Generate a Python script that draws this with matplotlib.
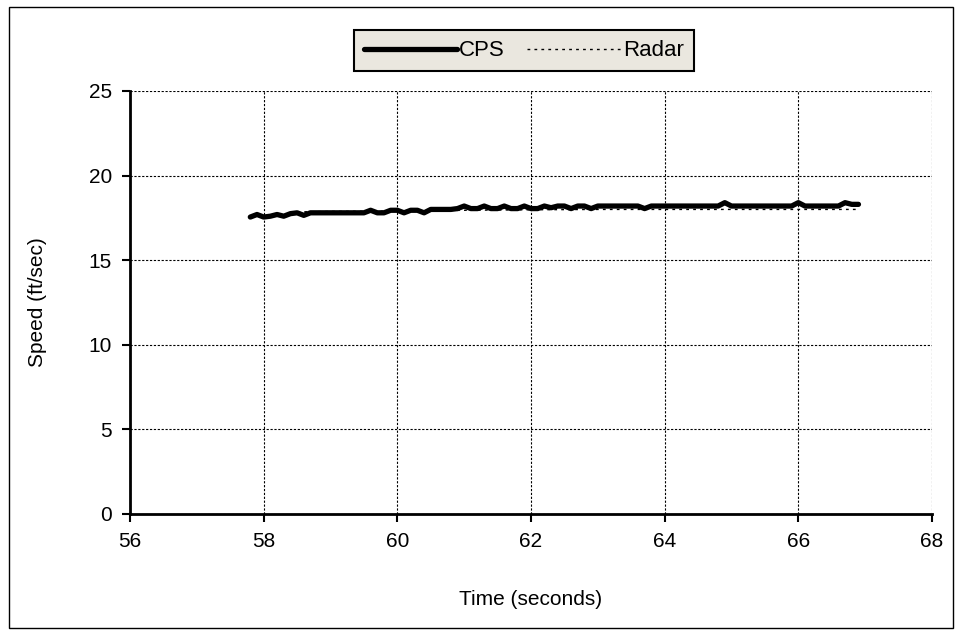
import matplotlib
matplotlib.use('Agg')
import matplotlib.pyplot as plt
from matplotlib.patches import Rectangle

# CPS speed samples (time in s, speed in ft/sec)
cps_time = [57.8, 57.9, 58.0, 58.1, 58.2, 58.3, 58.4, 58.5, 58.6, 58.7,
            58.8, 58.9, 59.0, 59.1, 59.2, 59.3, 59.4, 59.5, 59.6, 59.7,
            59.8, 59.9, 60.0, 60.1, 60.2, 60.3, 60.4, 60.5, 60.6, 60.7,
            60.8, 60.9, 61.0, 61.1, 61.2, 61.3, 61.4, 61.5, 61.6, 61.7,
            61.8, 61.9, 62.0, 62.1, 62.2, 62.3, 62.4, 62.5, 62.6, 62.7,
            62.8, 62.9, 63.0, 63.1, 63.2, 63.3, 63.4, 63.5, 63.6, 63.7,
            63.8, 63.9, 64.0, 64.1, 64.2, 64.3, 64.4, 64.5, 64.6, 64.7,
            64.8, 64.9, 65.0, 65.1, 65.2, 65.3, 65.4, 65.5, 65.6, 65.7,
            65.8, 65.9, 66.0, 66.1, 66.2, 66.3, 66.4, 66.5, 66.6, 66.7,
            66.8, 66.9]
cps_speed = [17.55, 17.7, 17.55, 17.6, 17.7, 17.6, 17.75, 17.8, 17.65, 17.8,
             17.8, 17.8, 17.8, 17.8, 17.8, 17.8, 17.8, 17.8, 17.95, 17.8,
             17.8, 17.95, 17.95, 17.8, 17.95, 17.95, 17.8, 18.0, 18.0, 18.0,
             18.0, 18.05, 18.2, 18.05, 18.05, 18.2, 18.05, 18.05, 18.2, 18.05,
             18.05, 18.2, 18.05, 18.05, 18.2, 18.1, 18.2, 18.2, 18.05, 18.2,
             18.2, 18.05, 18.2, 18.2, 18.2, 18.2, 18.2, 18.2, 18.2, 18.05,
             18.2, 18.2, 18.2, 18.2, 18.2, 18.2, 18.2, 18.2, 18.2, 18.2,
             18.2, 18.4, 18.2, 18.2, 18.2, 18.2, 18.2, 18.2, 18.2, 18.2,
             18.2, 18.2, 18.4, 18.2, 18.2, 18.2, 18.2, 18.2, 18.2, 18.4,
             18.3, 18.3]

# Radar reference speed
radar_time = [58.4, 59.0, 60.0, 61.0, 62.0, 63.0, 64.0, 65.0, 66.0, 66.9]
radar_speed = [17.85, 17.88, 17.9, 17.95, 17.98, 18.0, 18.0, 18.0, 18.0, 18.0]

x_ticks = [56, 58, 60, 62, 64, 66, 68]
y_ticks = [0, 5, 10, 15, 20, 25]

plt.rcParams['font.family'] = ['Liberation Sans', 'DejaVu Sans']

fig = plt.figure(figsize=(9.61, 6.35), dpi=100)
fig.patches.append(Rectangle((0.009, 0.011), 0.983, 0.978, transform=fig.transFigure,
                             fill=False, edgecolor='black', linewidth=1.0))
ax = fig.add_axes([0.1353, 0.1906, 0.8345, 0.6661])

ax.plot(cps_time, cps_speed, color='black', linewidth=3.8, label='CPS',
        solid_joinstyle='round', solid_capstyle='round', zorder=3)
ax.plot(radar_time, radar_speed, color='black', linewidth=1.0, linestyle=(0, (2, 3)),
        label='Radar', zorder=2)

ax.set_xlim(56, 68)
ax.set_ylim(0, 25)
ax.set_xticks(x_ticks)
ax.set_yticks(y_ticks)
ax.grid(True, color='black', linestyle=(0, (2, 1.5)), linewidth=0.8)
ax.set_axisbelow(True)
for s in ['top', 'right']:
    ax.spines[s].set_visible(False)
for s in ['left', 'bottom']:
    ax.spines[s].set_linewidth(2.0)
ax.tick_params(axis='both', direction='out', length=6, width=1.5, labelsize=15, pad=7)

ax.set_xlabel('Time (seconds)', fontsize=15, labelpad=28)
ax.set_ylabel('Speed (ft/sec)', fontsize=15, labelpad=30)

leg = fig.legend(loc='center', bbox_to_anchor=(0.545, 0.92), ncol=2, fontsize=16,
                 handlelength=4.2, handletextpad=0.1, columnspacing=1.0,
                 fancybox=False, framealpha=1, borderpad=0.45, borderaxespad=0)
leg.get_frame().set_facecolor('#EAE7DF')
leg.get_frame().set_edgecolor('black')
leg.get_frame().set_linewidth(1.5)

fig.savefig('out.png', dpi=100)
